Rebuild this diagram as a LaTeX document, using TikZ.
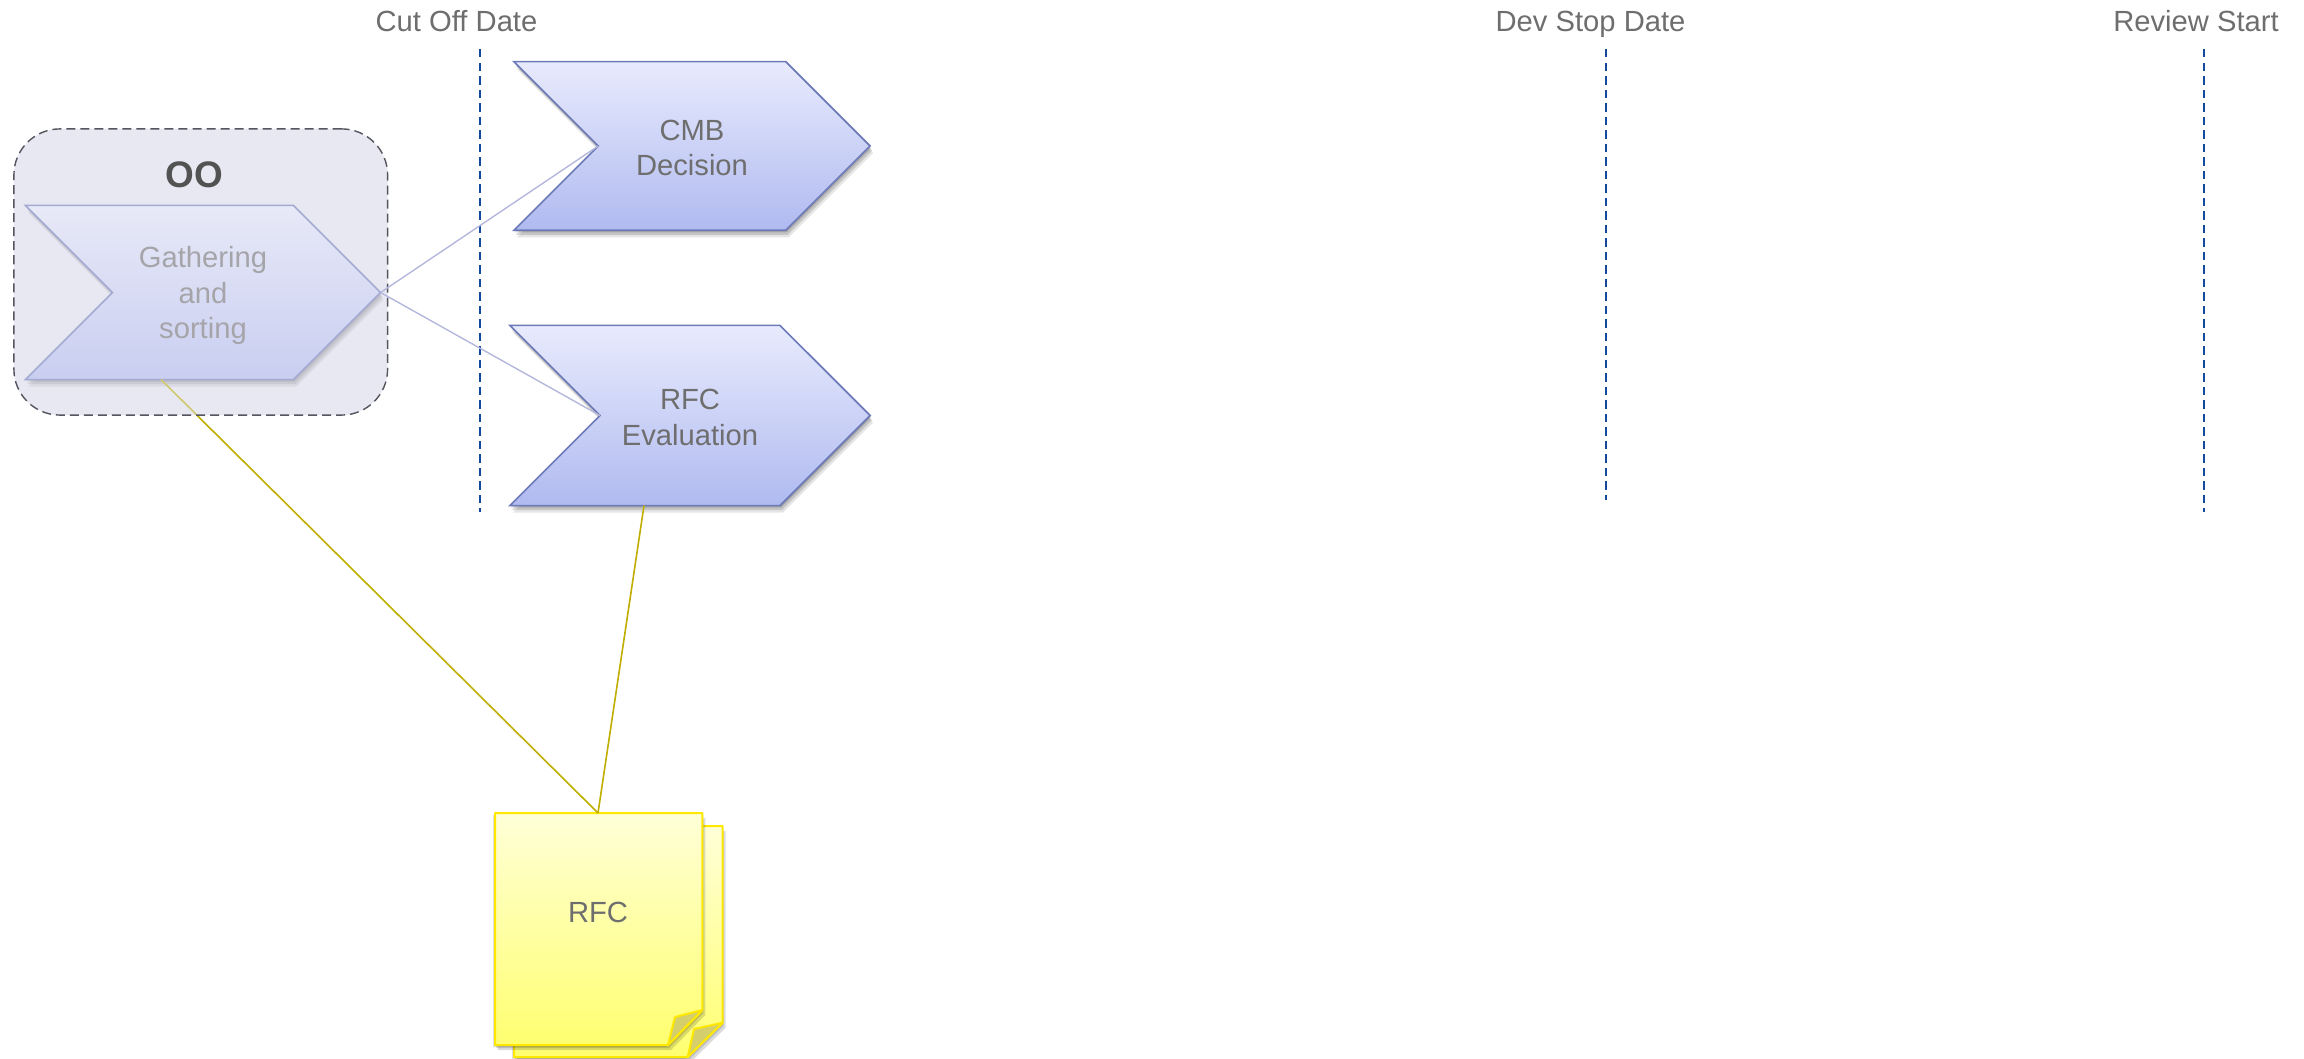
\documentclass[tikz,border=0pt]{standalone}
\usepackage{fontspec}
\usepackage{xcolor}
\setmainfont{Liberation Sans}
\usetikzlibrary{shapes.symbols,shadows}
\definecolor{txtgray}{HTML}{6E6E6E}
\definecolor{lnblue}{HTML}{134A9E}
\definecolor{chevedge}{HTML}{6C7AB8}
\definecolor{chevtop}{HTML}{E8EBFD}
\definecolor{chevbot}{HTML}{B0BAF0}
\definecolor{grpfill}{HTML}{E8E8F2}
\definecolor{grpedge}{HTML}{55555F}
\definecolor{linkblue}{HTML}{B4B7DC}
\definecolor{linkolive}{HTML}{BFAE00}
\definecolor{docedge}{HTML}{FFE800}
\definecolor{doctop}{HTML}{FFFFD8}
\definecolor{docbot}{HTML}{FFFF70}
\definecolor{docfold}{HTML}{D4CE6C}
\newcommand{\toplift}{\rule{0pt}{0.24cm}}
\tikzset{
	every node/.style={inner sep=0pt, outer sep=0pt, text=txtgray, align=center, font=\fontsize{8.3}{10.1}\selectfont},
	softshadow/.style={
		drop shadow={shadow xshift=0.01cm, shadow yshift=-0.02cm, opacity=0.15, fill=black},
		drop shadow={shadow xshift=0.02cm, shadow yshift=-0.045cm, opacity=0.14, fill=black},
		drop shadow={shadow xshift=0.03cm, shadow yshift=-0.07cm, opacity=0.1, fill=black}},
	docshadow/.style={
		drop shadow={shadow xshift=-0.02cm, shadow yshift=-0.02cm, opacity=0.12, fill=black},
		drop shadow={shadow xshift=0.01cm, shadow yshift=-0.03cm, opacity=0.14, fill=black},
		drop shadow={shadow xshift=0.03cm, shadow yshift=-0.05cm, opacity=0.14, fill=black}},
	chevron/.style={shape=signal, signal to=east, signal from=west, signal pointer angle=90, draw=chevedge, line width=0.016cm, top color=chevtop, bottom color=chevbot, text depth=-0.02cm, softshadow},
	datelbl/.style={anchor=base},
	dateline/.style={lnblue, line width=0.021cm, dash pattern=on 0.085cm off 0.05cm},
	linkb/.style={linkblue, line width=0.014cm},
	linko/.style={linkolive, line width=0.016cm},
	grpbox/.style={rounded corners=0.46cm, minimum width=3.735cm, minimum height=2.86cm},
	docpage/.style={draw=docedge, line width=0.02cm, top color=doctop, bottom color=docbot, line join=round, docshadow},
	docflap/.style={draw=docedge, line width=0.02cm, fill=docfold, line join=round}
}
\begin{document}
\begin{tikzpicture}[x=0.01cm, y=-0.01cm]
	\useasboundingbox (0,0) rectangle (2304,1058);
	\node (cutlbl) at (456.5,32) [datelbl] {Cut Off Date};
	\node (devlbl) at (1590.5,32) [datelbl] {Dev Stop Date};
	\node (revlbl) at (2196,32) [datelbl] {Review Start};
	\coordinate (cuttop) at (480.4,49);
	\coordinate (cutbot) at (480.4,512);
	\coordinate (devtop) at (1605.8,49);
	\coordinate (devbot) at (1605.8,500);
	\coordinate (revtop) at (2204,49);
	\coordinate (revbot) at (2204,512);
	\draw [dateline] (cuttop) -- (cutbot);
	\draw [dateline] (devtop) -- (devbot);
	\draw [dateline] (revtop) -- (revbot);
	\node (grpbase) at (200.75,272) [grpbox, draw=none, fill=grpfill] {};
	\node (cmb) at (692,146) [chevron, minimum width=3.56cm, minimum height=1.685cm] {\toplift CMB\\Decision};
	\node (evl) at (690,415.5) [chevron, minimum width=3.60cm, minimum height=1.80cm] {\toplift RFC\\Evaluation};
	\node (gat) at (203,292.5) [chevron, minimum width=3.55cm, minimum height=1.74cm] {Gathering\\and\\sorting};
	\path [docpage] (514,826) -- (722.7,826) -- (722.7,1022.7) -- (687.7,1057) -- (514,1057) -- cycle;
	\path [docflap] (722.7,1022.7) -- (694,1029) -- (687.7,1057) -- cycle;
	\path [docpage] (495,813) -- (702.3,813) -- (702.3,1010) -- (668,1045) -- (495,1045) -- cycle;
	\path [docflap] (702.3,1010) -- (675,1017) -- (668,1045) -- cycle;
	\node (rfc) at (598,912) {RFC};
	\coordinate (rfctop) at (598,813);
	\draw [linko] (gat.south) ++(-42,0) -- (rfctop);
	\draw [linko] (evl.south) ++(-46,0) -- (rfctop);
	\node (grp) at (200.75,272) [grpbox, draw=grpedge, line width=0.014cm, dash pattern=on 0.09cm off 0.05cm, fill=grpfill, fill opacity=0.45] {};
	\draw [linkb] (gat.east) -- (cmb.west);
	\draw [linkb] (gat.east) -- (evl.west);
	\node (oolbl) at (194,175) [text=black!68, font=\fontsize{10.5}{12}\selectfont\bfseries] {OO};
\end{tikzpicture}
\end{document}
